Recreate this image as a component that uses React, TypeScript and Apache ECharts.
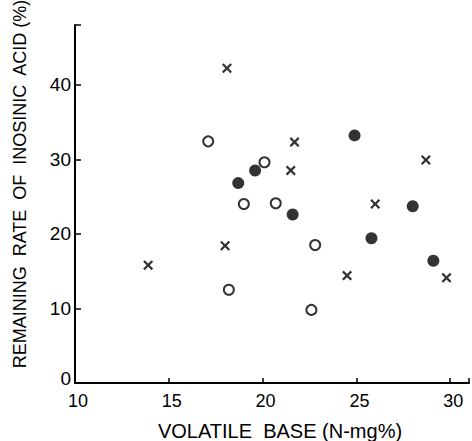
import React, { useEffect, useRef } from "react";
import * as echarts from "echarts";

const crossX = [18.1, 21.7, 28.7, 21.5, 26.0, 18.0, 24.5, 29.8, 13.9];
const crossY = [42.2, 32.3, 29.9, 28.5, 24.0, 18.4, 14.4, 14.1, 15.8];

const openX = [17.1, 20.1, 19.0, 20.7, 22.8, 18.2, 22.6];
const openY = [32.4, 29.6, 24.0, 24.1, 18.5, 12.5, 9.8];

const filledX = [24.9, 19.6, 18.7, 28.0, 21.6, 25.8, 29.1];
const filledY = [33.2, 28.5, 26.8, 23.7, 22.6, 19.4, 16.4];

const xTitle = "VOLATILE  BASE (N-mg%)";
const yTitle = "REMAINING  RATE  OF  INOSINIC  ACID (%)";

const zip = (xs: number[], ys: number[]) => xs.map((x, i) => [x, ys[i]]);

const CROSS =
  "path://M0,1.6 L1.6,0 L5,3.4 L8.4,0 L10,1.6 L6.6,5 L10,8.4 L8.4,10 L5,6.6 L1.6,10 L0,8.4 L3.4,5 Z";

export default function App() {
  const ref = useRef<HTMLDivElement>(null);
  useEffect(() => {
    if (!ref.current) return;
    const chart = echarts.init(ref.current, null, { renderer: "svg" });
    const font = "'Liberation Sans', Arial, sans-serif";
    chart.setOption({
      animation: false,
      backgroundColor: "#fff",
      grid: { left: 75, right: 0, top: 25, bottom: 58 },
      xAxis: {
        type: "value",
        min: 10,
        max: 31,
        interval: 5,
        splitLine: { show: false },
        axisLine: { show: true, lineStyle: { color: "#000", width: 2 } },
        axisTick: { show: true, inside: true, length: 5, lineStyle: { color: "#000", width: 1.5 } },
        axisLabel: {
          color: "#000",
          fontSize: 18,
          fontFamily: font,
          margin: 9,
          padding: [0, 0, 0, 6],
          formatter: (v: number) => (v % 5 === 0 ? String(v) : ""),
        },
      },
      yAxis: {
        type: "value",
        min: 0,
        max: 48,
        interval: 10,
        splitLine: { show: false },
        axisLine: { show: true, lineStyle: { color: "#000", width: 2 } },
        axisTick: { show: true, inside: true, length: 6, lineStyle: { color: "#000", width: 1.5 } },
        axisLabel: {
          color: "#000",
          fontSize: 19,
          fontFamily: font,
          margin: 4,
          formatter: (v: number) =>
            v === 0 ? "{z|0}" : v % 10 === 0 ? String(v) : "",
          rich: {
            z: { fontSize: 19, fontFamily: font, color: "#000", padding: [0, 0, 10, 0] },
          },
        },
      },
      graphic: [
        {
          type: "text",
          x: 280,
          y: 431,
          style: {
            text: xTitle,
            fontSize: 20,
            fontFamily: font,
            fill: "#000",
            align: "center",
            verticalAlign: "middle",
          },
        },
        {
          type: "text",
          x: 20,
          y: 184,
          rotation: Math.PI / 2,
          style: {
            text: yTitle,
            fontSize: 18,
            fontFamily: font,
            fill: "#000",
            align: "center",
            verticalAlign: "middle",
          },
        },
      ],
      series: [
        {
          type: "scatter",
          data: zip(openX, openY),
          symbol: "circle",
          symbolSize: 10,
          itemStyle: { color: "#fff", borderColor: "#000", borderWidth: 2 },
        },
        {
          type: "scatter",
          data: zip(filledX, filledY),
          symbol: "circle",
          symbolSize: 12,
          itemStyle: { color: "#000" },
        },
        {
          type: "scatter",
          data: zip(crossX, crossY),
          symbol: CROSS,
          symbolSize: 10,
          itemStyle: { color: "#000" },
        },
      ],
    });
    return () => chart.dispose();
  }, []);
  return (
    <div
      ref={ref}
      style={{ position: "fixed", left: 0, top: 0, width: 472, height: 441 }}
    />
  );
}
